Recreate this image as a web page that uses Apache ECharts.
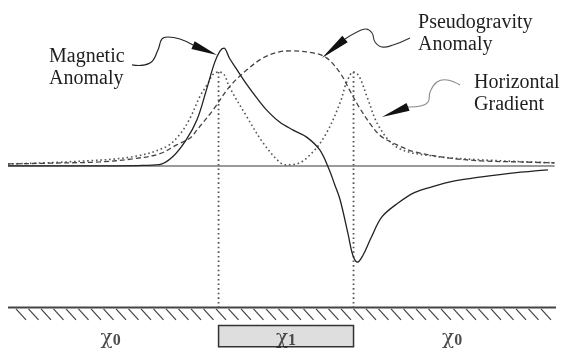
<!DOCTYPE html>
<html><head><meta charset="utf-8">
<script src="https://cdn.jsdelivr.net/npm/echarts@6/dist/echarts.min.js"></script>
<style>html,body{margin:0;padding:0;background:#fff}#c{width:564px;height:348px}</style>
</head><body><div id="c"></div>
<script>
// ---- data (x in km along profile, y in relative anomaly units) ----
const magnetic = [[-20.6,0],[-14,0],[-11,0.3],[-9.4,1],[-8.4,7.8],[-7.4,22.4],[-6.6,39.7],[-5.9,65.5],[-5.3,88.8],[-4.9,99],[-4.6,101.5],[-4.2,93],[-3.7,84],[-2.9,70],[-2.2,59],[-1.45,48.3],[-0.5,38],[0.5,31],[1.5,25],[2.5,13.7],[3.2,-3.4],[3.6,-16],[4.0,-29],[4.6,-59],[4.95,-77],[5.3,-83],[5.7,-77],[6.3,-62],[7.1,-44],[8.3,-32],[9.5,-23],[10.8,-18],[12.5,-13],[14.5,-9.5],[16.9,-6],[19.4,-3.4]];
const pseudogravity = [[-20.6,1.7],[-16.3,2.6],[-13.8,3.4],[-11.4,6],[-9.4,10.3],[-8.1,18.1],[-7.1,24.1],[-6.6,31],[-5.4,48.3],[-4.2,68.1],[-2.9,82.8],[-1.7,93.1],[-0.5,98.3],[0.4,99.1],[2.0,97.4],[3.0,93.1],[4.0,80.2],[4.7,65.5],[5.4,50.9],[6.4,33.6],[7.1,25],[8.4,17.2],[9.5,12.1],[12.0,6.9],[14.5,4.3],[17.3,3.4],[19.9,2.6]];
const gradient = [[-20.6,1.7],[-16.3,3.4],[-11.4,7.8],[-8.9,16.4],[-7.9,26.7],[-7.1,41.4],[-6.4,59.5],[-5.8,71],[-5.4,79],[-5.0,81],[-4.6,79],[-4.2,68.1],[-2.9,42.2],[-1.7,19.8],[-0.5,3.4],[0.0,0.9],[0.8,1.7],[2.0,12.1],[3.0,28.4],[4.0,54.3],[4.5,72.4],[5.0,81],[5.4,77.6],[6.0,59.5],[6.9,33.6],[8.3,15.5],[10.8,8.6],[14.5,5.2],[19.9,2.6]];
const bodyEdges = [-5, 5];
const edgeTop = 81;
const profileRange = [-20.6, 19.9];
const groundLevel = -122;
const bodyTop = -137.6, bodyBottom = -156;
const suscLabels = [[-13.0,-148,'0'],[0,-148,'1'],[12.3,-148,'0']];
const annoTexts = [
  {text:'Magnetic\nAnomaly', at:[-17.56, 85]},
  {text:'Pseudogravity\nAnomaly', at:[9.78, 114.1]},
  {text:'Horizontal\nGradient', at:[13.93, 62.0]}
];
const annoArrows = [
  {path:[[-11.41,87],[-10.08,88.7],[-9.49,99.9],[-9.19,109.4],[-8.75,111.1],[-7.86,109.4],[-6.89,104.2]], tip:[-5.12,95.6], color:'#222', w:1.2},
  {path:[[9.18,110.3],[7.93,104.2],[7.11,102.5],[6.59,106.8],[6.37,114.6],[5.92,118.0],[5.26,115.4],[4.37,109.4]], tip:[2.66,93.0], color:'#333', w:1.1},
  {path:[[12.89,69.7],[11.93,74.1],[11.18,72.3],[10.67,63.7],[10.52,55.1],[9.93,51.6],[9.04,50.8]], tip:[7.11,42.2], color:'#888', w:1.1}
];

const chart = echarts.init(document.getElementById('c'), null, {renderer:'canvas'});
const serifA = "'Liberation Serif', 'DejaVu Serif'";
const serifB = 'DejaVu Serif';
const edgeLines = bodyEdges.map(x => ({
  type:'line', data:[[x, edgeTop],[x, groundLevel]], symbol:'none', silent:true,
  lineStyle:{color:'#555', width:1.8, type:[1.6,3]}, z:1
}));
chart.setOption({
  animation:false,
  grid:{left:8, right:8, top:0, bottom:0},
  xAxis:{type:'value', min:-20.6, max:20, show:false},
  yAxis:{type:'value', min:-157, max:143, show:false},
  series:[
    {type:'line', data:[[profileRange[0],0],[profileRange[1],0]], symbol:'none', silent:true,
     lineStyle:{color:'#9a9a9a', width:2}, z:1,
     markArea:{silent:true, itemStyle:{color:'#dedede', borderColor:'#333', borderWidth:1.5},
       data:[[{coord:[bodyEdges[0], bodyTop]},{coord:[bodyEdges[1], bodyBottom]}]]}},
    {type:'line', data:[[-20.6,groundLevel],[20,groundLevel]], symbol:'none', silent:true,
     lineStyle:{color:'#444', width:2}, z:2},
    ...edgeLines,
    {name:'Horizontal Gradient', type:'line', data:gradient, smooth:0.35, symbol:'none',
     lineStyle:{color:'#555', width:1.6, type:[1.6,2.8]}, z:3},
    {name:'Pseudogravity Anomaly', type:'line', data:pseudogravity, smooth:0.35, symbol:'none',
     lineStyle:{color:'#444', width:1.3, type:[5,3]}, z:4},
    {name:'Magnetic Anomaly', type:'line', data:magnetic, smooth:0.35, symbol:'none',
     lineStyle:{color:'#222', width:1.3}, z:5},
    {type:'scatter', data:suscLabels, symbolSize:0, silent:true, z:10,
     label:{show:true, position:'inside', formatter:p => '{c|χ}{s|' + p.data[2] + '}',
       rich:{c:{fontFamily:serifB, fontSize:20, color:'#222', lineHeight:22, verticalAlign:'bottom'},
             s:{fontFamily:serifA, fontSize:16, fontWeight:'bold', color:'#222', lineHeight:22, verticalAlign:'bottom'}}}}
  ]
});

// annotations and ground hatching (decoration)
const P = v => chart.convertToPixel({gridIndex:0}, v);
const graphics = [];
annoTexts.forEach(t => {
  const p = P(t.at);
  graphics.push({type:'text', silent:true, z:20, style:{text:t.text, x:p[0], y:p[1], fontSize:20, fontFamily:serifA, fill:'#1e1e1e', lineHeight:22, align:'left', verticalAlign:'middle'}});
});
annoArrows.forEach(a => {
  const pts = a.path.map(P);
  const tip = P(a.tip);
  const base = pts[pts.length-1];
  const dx = tip[0]-base[0], dy = tip[1]-base[1];
  const L = Math.hypot(dx, dy), ux = dx/L, uy = dy/L, hw = 4.2;
  graphics.push({type:'polyline', silent:true, z:20, shape:{points:pts, smooth:0.45}, style:{stroke:a.color, lineWidth:a.w, fill:null}});
  graphics.push({type:'polygon', silent:true, z:20, shape:{points:[tip,[base[0]-uy*hw, base[1]+ux*hw],[base[0]+uy*hw, base[1]-ux*hw]]}, style:{fill:'#111'}});
});
const gl = P([-20.6, groundLevel]), gr = P([20, groundLevel]);
for (let x = gl[0] + 8; x < gr[0] - 4; x += 12.5) {
  graphics.push({type:'line', silent:true, z:5, shape:{x1:x, y1:gl[1]+1.5, x2:x+10, y2:gl[1]+12.5}, style:{stroke:'#444', lineWidth:1.2}});
}
chart.setOption({graphic:graphics});
</script></body></html>
